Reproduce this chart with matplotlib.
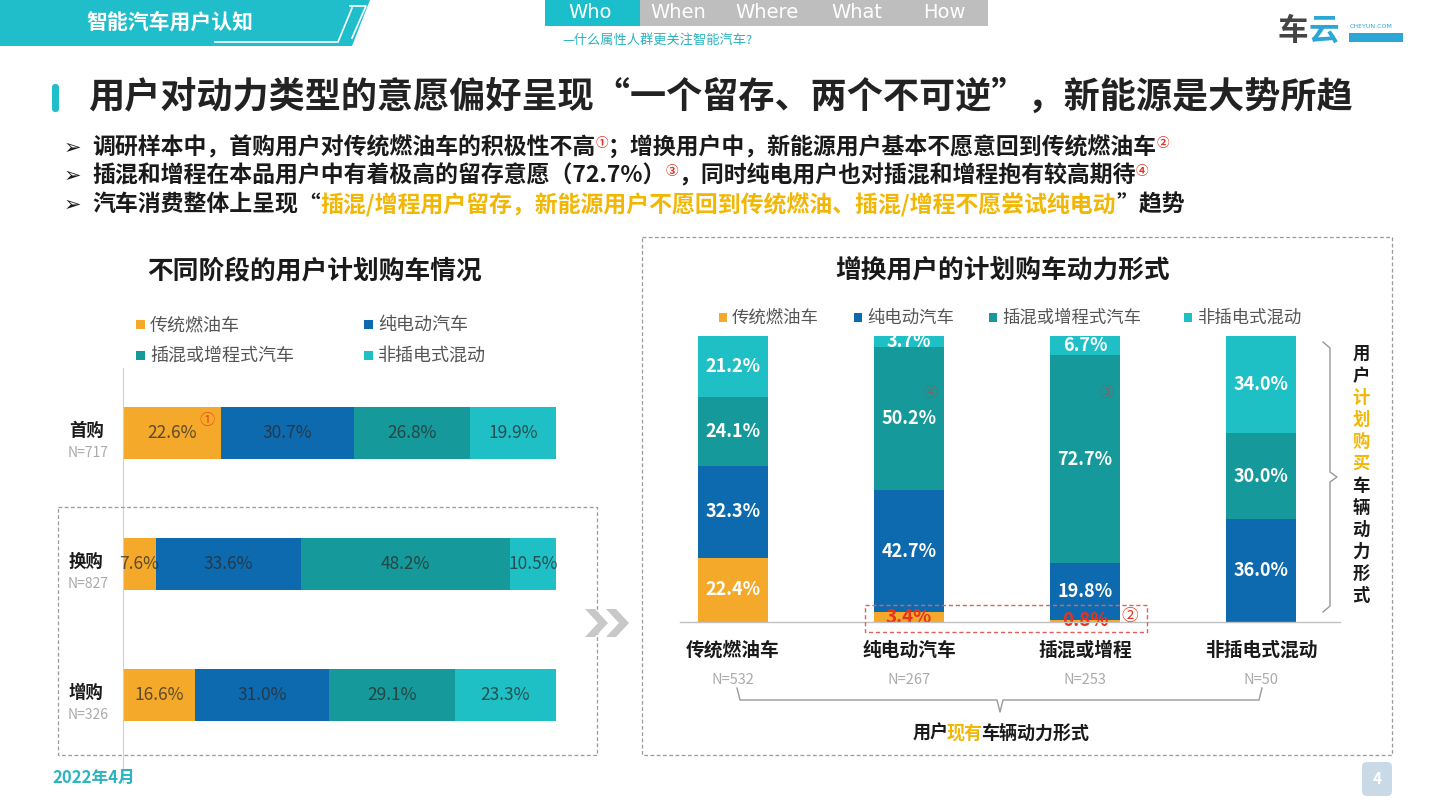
import numpy as np
import matplotlib
matplotlib.use('Agg')
import matplotlib.pyplot as plt
from matplotlib.patches import Polygon, Rectangle, FancyBboxPatch

plt.rcParams['font.family'] = ['Noto Sans CJK SC', 'DejaVu Sans']

# ---- data ----
types = ['传统燃油车', '纯电动汽车', '插混或增程式汽车', '非插电式混动']
colors = ['#F4A92A', '#0E6AAE', '#16999A', '#1EBFC5']

stages = ['首购', '换购', '增购']
stage_n = ['N=717', 'N=827', 'N=326']
stage_fuel = [22.6, 7.6, 16.6]
stage_bev = [30.7, 33.6, 31.0]
stage_phev = [26.8, 48.2, 29.1]
stage_hev = [19.9, 10.5, 23.3]

current = ['传统燃油车', '纯电动汽车', '插混或增程', '非插电式混动']
current_n = ['N=532', 'N=267', 'N=253', 'N=50']
plan_fuel = [22.4, 3.4, 0.8, 0.0]
plan_bev = [32.3, 42.7, 19.8, 36.0]
plan_phev = [24.1, 50.2, 72.7, 30.0]
plan_hev = [21.2, 3.7, 6.7, 34.0]

W, H = 1440, 811
TEAL = '#20BDCB'
ORANGE_TXT = '#F2B705'
RED = '#E8321E'
BLACK = '#1a1a1a'


def rect(x0, y0, x1, y1):
    return [x0 / W, 1 - y1 / H, (x1 - x0) / W, (y1 - y0) / H]


fig = plt.figure(figsize=(14.4, 8.11), dpi=100)

# ---- left chart: stacked horizontal bars ----
axL = fig.add_axes(rect(123, 368, 556, 782))
left_series = [stage_fuel, stage_bev, stage_phev, stage_hev]
cum = np.zeros(len(stages))
ypos = np.arange(len(stages))
for j, vals in enumerate(left_series):
    vals = np.array(vals)
    axL.barh(ypos, vals, left=cum, height=0.4, color=colors[j], lw=0)
    for i, v in enumerate(vals):
        axL.text(cum[i] + v / 2, ypos[i], f'{v:.1f}%', ha='center', va='center',
                 fontsize=12.5, color='#2a2a2a', alpha=0.75)
    cum += vals
axL.set_xlim(0, 100)
axL.set_ylim((782 - 433) / 131, (368 - 433) / 131)
for s in ['top', 'right', 'bottom']:
    axL.spines[s].set_visible(False)
axL.spines['left'].set_color('#d0d0d0')
axL.spines['left'].set_linewidth(0.8)
axL.set_xticks([])
axL.set_yticks([])
axL.patch.set_alpha(0)

# ---- right chart: stacked vertical bars ----
axR = fig.add_axes(rect(645, 336, 1349, 622))
right_series = [plan_fuel, plan_bev, plan_phev, plan_hev]
xpos = np.arange(len(current))
bottom = np.zeros(len(current))
for j, vals in enumerate(right_series):
    vals = np.array(vals)
    axR.bar(xpos, vals, bottom=bottom, width=0.4, color=colors[j], lw=0)
    for i, v in enumerate(vals):
        if v <= 0:
            continue
        red = (j == 0 and v < 5)
        axR.text(xpos[i], bottom[i] + v / 2, f'{v:.1f}%', ha='center', va='center',
                 fontsize=13.5 if red else 13, fontweight='bold', color=RED if red else 'white')
    bottom += vals
axR.set_xlim(-0.5, 3.5)
axR.set_ylim(0, 100)
axR.axis('off')

# ---- overlay for slide decorations ----
ax = fig.add_axes([0, 0, 1, 1], zorder=5)
ax.set_xlim(0, W)
ax.set_ylim(H, 0)
ax.axis('off')

# header banner
ax.add_patch(Polygon([(0, 0), (370, 0), (352, 46), (0, 46)], closed=True, color=TEAL, lw=0))
ax.plot([215, 338, 352], [42, 42, 8], color='white', lw=1.2)
ax.plot([350, 366, 352], [6, 6, 38], color='white', lw=1.2)
ax.text(170, 22, '智能汽车用户认知', color='white', fontsize=15, fontweight='bold', ha='center', va='center')

# tabs
ax.add_patch(Rectangle((545, 0), 95, 26, color='#1ABFCB', lw=0))
ax.add_patch(Rectangle((640, 0), 348, 26, color='#BEBEBE', lw=0))
for t, x in zip(['Who', 'When', 'Where', 'What', 'How'], [590, 678, 767, 857, 944]):
    ax.text(x, 13, t, color='white', fontsize=14, ha='center', va='center', family=['DejaVu Sans'])
ax.text(562, 40, '—什么属性人群更关注智能汽车?', color='#2AB3C0', fontsize=9.5, ha='left', va='center')

# logo
ax.text(1278, 31, '车', color='#444444', fontsize=22, fontweight='bold', ha='left', va='center')
ax.text(1309, 31, '云', color='#2BA6D6', fontsize=22, fontweight='bold', ha='left', va='center')
ax.text(1350, 27, 'CHEYUN.COM', color='#2BA6D6', fontsize=4.5, ha='left', va='center', family=['DejaVu Sans'])
ax.add_patch(Rectangle((1349, 33), 54, 9, color='#2BA6D6', lw=0))

# title
ax.add_patch(FancyBboxPatch((52, 84), 7, 28, boxstyle='round,pad=0,rounding_size=3.5', color=TEAL, lw=0))
ax.text(88, 97, '用户对动力类型的意愿偏好呈现“一个留存、两个不可逆”，新能源是大势所趋',
        fontsize=26, fontweight='bold', color='#222222', ha='left', va='center')


def chain(x, y, parts, size=16.5, shift=0):
    prev = None
    for s, c, dy, fs in parts:
        kw = dict(color=c, ha='left', va='center', fontsize=fs or size, fontweight='bold')
        if prev is None:
            prev = ax.text(x, y + dy, s, **kw)
        else:
            prev = ax.annotate(s, xy=(1, y + dy), xycoords=(prev, 'data'),
                               xytext=(shift, 0), textcoords='offset points', **kw)
    return prev


for y in [148, 176, 205]:
    ax.text(64, y, '➢', fontsize=15, color=BLACK, ha='left', va='center', family=['DejaVu Sans'])
chain(92, 148, [('调研样本中，首购用户对传统燃油车的积极性不高', BLACK, 0, None),
                ('①', RED, -4, 9),
                ('；增换用户中，新能源用户基本不愿意回到传统燃油车', BLACK, 0, None),
                ('②', RED, -4, 9)])
chain(92, 176, [('插混和增程在本品用户中有着极高的留存意愿（72.7%）', BLACK, 0, None),
                ('③', RED, -4, 9),
                ('，同时纯电用户也对插混和增程抱有较高期待', BLACK, 0, None),
                ('④', RED, -4, 9)])
chain(92, 205, [('汽车消费整体上呈现“', BLACK, 0, None),
                ('插混/增程用户留存，新能源用户不愿回到传统燃油、插混/增程不愿尝试纯电动', ORANGE_TXT, 0, None),
                ('”趋势', BLACK, 0, None)])

# left chart title, legend, labels
ax.text(315, 272, '不同阶段的用户计划购车情况', fontsize=18.5, fontweight='bold', color='#1a1a1a',
        ha='center', va='center')
for k, (x, y) in enumerate([(136, 325), (364, 325), (136, 356), (364, 356)]):
    ax.add_patch(Rectangle((x, y - 5), 9, 9, color=colors[k], lw=0))
    ax.text(x + 14, y, types[k], fontsize=13, color='#555555', ha='left', va='center')
for i, (s, n) in enumerate(zip(stages, stage_n)):
    yc = 433 + 131 * i
    ax.text(86, yc - 2, s, fontsize=12.5, fontweight='bold', color='#1a1a1a', ha='center', va='center')
    ax.text(88, yc + 20, n, fontsize=10, color='#AAAAAA', ha='center', va='center')
ax.text(207, 421, '①', fontsize=11, color='#E8501A', ha='center', va='center')
ax.add_patch(Rectangle((58, 507), 539, 248, fill=False, ls=(0, (3, 2)), ec='#999999', lw=0.9))

# chevrons
for x0 in [585, 606]:
    ax.add_patch(Polygon([(x0, 609), (x0 + 10, 609), (x0 + 23, 623), (x0 + 10, 637),
                          (x0, 637), (x0 + 13, 623)], closed=True, color='#C8C8C8', lw=0))

# right chart title, legend, labels
ax.add_patch(Rectangle((642, 237), 750, 518, fill=False, ls=(0, (3, 2)), ec='#999999', lw=0.9))
ax.text(1003, 270, '增换用户的计划购车动力形式', fontsize=18.5, fontweight='bold', color='#1a1a1a',
        ha='center', va='center')
for k, x in enumerate([719, 854, 989, 1184]):
    ax.add_patch(Rectangle((x, 313), 8, 9, color=colors[k], lw=0))
    ax.text(x + 13, 318, types[k], fontsize=12.5, color='#555555', ha='left', va='center')
ax.plot([680, 1340], [622, 622], color='#C0C0C0', lw=1, zorder=0)
for i, (s, n) in enumerate(zip(current, current_n)):
    xc = 733 + 176 * i
    ax.text(xc, 650, s, fontsize=13.5, fontweight='bold', color='#1a1a1a', ha='center', va='center')
    ax.text(xc, 680, n, fontsize=10.5, color='#AAAAAA', ha='center', va='center')
ax.add_patch(Rectangle((865, 605), 282, 27, fill=False, ls=(0, (3, 2)), ec='#E06060', lw=1))
ax.text(1130, 617, '②', fontsize=12, color=RED, ha='center', va='center')
ax.text(930, 393, '④', fontsize=10, color='#C04040', alpha=0.6, ha='center', va='center')
ax.text(1106, 393, '③', fontsize=10, color='#C04040', alpha=0.6, ha='center', va='center')

# bottom brace
ax.plot([737, 740, 997, 1000, 1003, 1259, 1262], [688, 700, 700, 712, 700, 700, 688], color='#999999', lw=1)
chain(913, 733, [('用户', BLACK, 0, None), ('现有', ORANGE_TXT, 0, None), ('车辆动力形式', BLACK, 0, None)],
      size=13, shift=-1.5)

# right brace and vertical text
ax.plot([1323, 1330, 1330, 1337, 1330, 1330, 1323], [342, 348, 472, 477, 482, 606, 612], color='#999999', lw=1)
vert = '用户计划购买车辆动力形式'
for k, ch in enumerate(vert):
    c = ORANGE_TXT if 2 <= k <= 5 else BLACK
    ax.text(1361, 354 + k * 22, ch, fontsize=12.5, fontweight='bold', color=c, ha='center', va='center')

# footer
ax.text(52, 778, '2022年4月', fontsize=12, fontweight='bold', color='#2BB5C0', ha='left', va='center')
ax.add_patch(FancyBboxPatch((1362, 762), 30, 34, boxstyle='round,pad=0,rounding_size=5', color='#C9D9E6', lw=0))
ax.text(1377, 779, '4', fontsize=11, color='white', fontweight='bold', ha='center', va='center')

fig.savefig('out.png', dpi=100)
